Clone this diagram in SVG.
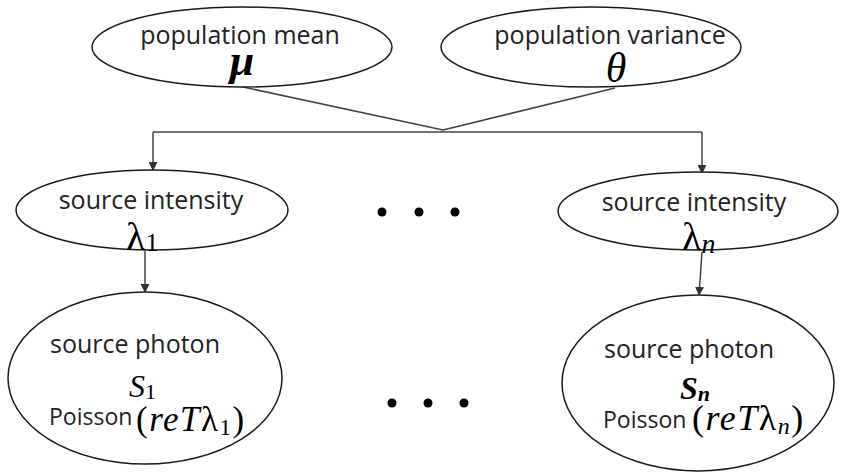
<svg xmlns="http://www.w3.org/2000/svg" width="841" height="472" viewBox="0 0 841 472">
  <style>
    .node { fill: #ffffff; stroke: #1a1a1a; stroke-width: 1.5; }
    .lbl { font-family: "Open Sans", "Noto Sans", sans-serif; font-size: 25px; fill: #222; }
    .plbl { font-family: "Open Sans", "Noto Sans", sans-serif; font-size: 23px; fill: #222; }
    .math { font-family: "Liberation Serif", "DejaVu Serif", serif; font-style: italic; fill: #000; }
    .up { font-style: normal; }
    .edge { fill: none; stroke: #444; stroke-width: 1.5; }
    .dot { fill: #000; }
  </style>
  <defs>
    <marker id="arrow" viewBox="0 0 10 10" refX="9" refY="5" markerWidth="9" markerHeight="9" markerUnits="userSpaceOnUse" orient="auto">
      <path d="M0,0 L10,5 L0,10 Z" fill="#333"/>
    </marker>
  </defs>

  <rect width="841" height="472" fill="#ffffff"/>

  <g id="connectors">
    <path class="edge" d="M243,87 L443,130"/>
    <path class="edge" d="M615,88 L443,130"/>
    <path class="edge" d="M153,132 L702,132"/>
    <path class="edge" d="M153,132 L153,170" marker-end="url(#arrow)"/>
    <path class="edge" d="M702,132 L702,173" marker-end="url(#arrow)"/>
    <path class="edge" d="M145,251 L145,292" marker-end="url(#arrow)"/>
    <path class="edge" d="M702,252 L699,295" marker-end="url(#arrow)"/>
  </g>

  <g id="population-mean">
    <ellipse class="node" cx="242" cy="47" rx="150" ry="40"/>
    <text class="lbl" x="240" y="44" text-anchor="middle">population mean</text>
    <text class="math" x="242" y="75" text-anchor="middle" font-size="44" font-weight="bold">μ</text>
  </g>

  <g id="population-variance">
    <ellipse class="node" cx="591" cy="47" rx="150" ry="40"/>
    <text class="lbl" x="610" y="44" text-anchor="middle">population variance</text>
    <text class="math" x="616" y="82" text-anchor="middle" font-size="42">θ</text>
  </g>

  <g id="source-intensity-1">
    <ellipse class="node" cx="152" cy="210" rx="136" ry="40"/>
    <text class="lbl" x="151" y="209" text-anchor="middle">source intensity</text>
    <text class="math up" x="126" y="250" font-size="40">λ<tspan font-size="26" dy="1">1</tspan></text>
  </g>

  <g id="source-intensity-n">
    <ellipse class="node" cx="698" cy="211" rx="140" ry="39"/>
    <text class="lbl" x="694" y="211" text-anchor="middle">source intensity</text>
    <text class="math up" x="682" y="250" font-size="40">λ<tspan font-size="28" font-style="italic" dy="3">n</tspan></text>
  </g>

  <g id="dots-upper">
    <circle class="dot" cx="382" cy="212" r="4.5"/>
    <circle class="dot" cx="419" cy="212" r="4.5"/>
    <circle class="dot" cx="455" cy="212" r="4.5"/>
  </g>

  <g id="source-photon-1">
    <ellipse class="node" cx="145" cy="378" rx="137" ry="86"/>
    <text class="lbl" x="135" y="353" text-anchor="middle">source photon</text>
    <text class="math" x="129" y="397" font-size="32">S<tspan font-size="22" font-style="normal" dy="2">1</tspan></text>
    <text class="plbl" x="49" y="425">Poisson</text>
    <text class="math" x="136" y="431" font-size="35" letter-spacing="1.5"><tspan font-style="normal">(</tspan>reT<tspan font-style="normal">λ</tspan><tspan font-size="23" font-style="normal" dy="4">1</tspan><tspan font-style="normal" dy="-4">)</tspan></text>
  </g>

  <g id="source-photon-n">
    <ellipse class="node" cx="698" cy="383" rx="136" ry="88"/>
    <text class="lbl" x="689" y="358" text-anchor="middle">source photon</text>
    <text class="math" x="680" y="399" font-size="32" font-weight="bold">S<tspan font-size="22" dy="2">n</tspan></text>
    <text class="plbl" x="603" y="428">Poisson</text>
    <text class="math" x="692" y="430" font-size="36" letter-spacing="1.5"><tspan font-style="normal">(</tspan>reT<tspan font-style="normal">λ</tspan><tspan font-size="24" dy="4">n</tspan><tspan font-style="normal" dy="-4">)</tspan></text>
  </g>

  <g id="dots-lower">
    <circle class="dot" cx="392" cy="403" r="4.5"/>
    <circle class="dot" cx="428" cy="403" r="4.5"/>
    <circle class="dot" cx="464" cy="403" r="4.5"/>
  </g>
</svg>
